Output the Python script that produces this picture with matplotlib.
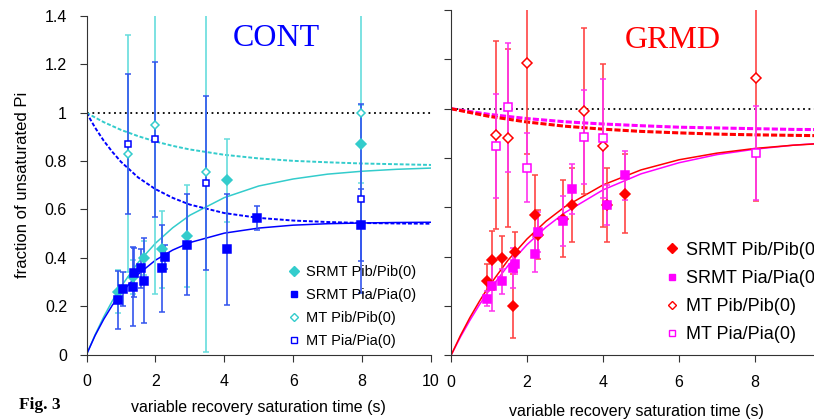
import numpy as np
import matplotlib
matplotlib.use('Agg')
import matplotlib.pyplot as plt

# ---- CONT panel data ----
cont_srmt_pib_x = [0.92, 1.36, 1.67, 2.19, 2.91, 4.08, 7.98]
cont_srmt_pib_y = [0.26, 0.32, 0.40, 0.435, 0.49, 0.72, 0.87]
cont_srmt_pib_e = [0.09, 0.07, 0.07, 0.16, 0.21, 0.17, 0.16]

cont_srmt_pia_x = [0.92, 1.07, 1.34, 1.39, 1.58, 1.68, 2.18, 2.28, 2.92, 4.08, 4.96, 7.98]
cont_srmt_pia_y = [0.226, 0.272, 0.281, 0.339, 0.357, 0.306, 0.357, 0.404, 0.455, 0.435, 0.564, 0.536]
cont_srmt_pia_e = [0.12, 0.07, 0.165, 0.10, 0.08, 0.175, 0.18, 0.05, 0.21, 0.23, 0.05, 0.15]

cont_mt_pib_x = [1.19, 1.99, 3.48, 7.98]
cont_mt_pib_y = [0.83, 0.95, 0.755, 1.0]
cont_mt_pib_e = [0.49, 0.70, 0.745, 0.45]

cont_mt_pia_x = [1.19, 1.98, 3.48, 7.98]
cont_mt_pia_y = [0.87, 0.89, 0.71, 0.645]
cont_mt_pia_e = [0.29, 0.32, 0.36, 0.39]

# fitted curves
fit_t = [0, 0.25, 0.5, 0.75, 1, 1.5, 2, 2.5, 3, 4, 5, 6, 7, 8, 9, 10]
cont_fit_pib = [0, 0.082, 0.156, 0.222, 0.281, 0.381, 0.460, 0.524, 0.576, 0.649, 0.697, 0.726, 0.746, 0.758, 0.766, 0.771]
cont_fit_pia = [0, 0.079, 0.146, 0.204, 0.254, 0.332, 0.390, 0.432, 0.463, 0.502, 0.523, 0.535, 0.541, 0.544, 0.546, 0.547]
cont_mt_fit_pib = [1.0, 0.980, 0.961, 0.945, 0.929, 0.903, 0.881, 0.863, 0.848, 0.826, 0.811, 0.801, 0.795, 0.790, 0.787, 0.784]
cont_mt_fit_pia = [1.0, 0.938, 0.884, 0.838, 0.797, 0.732, 0.684, 0.648, 0.620, 0.585, 0.565, 0.554, 0.548, 0.544, 0.542, 0.541]

# ---- GRMD panel data ----
grmd_srmt_pib_x = [0.94, 1.09, 1.34, 1.62, 1.69, 2.21, 2.28, 2.94, 3.19, 4.11, 4.58]
grmd_srmt_pib_y = [0.30, 0.385, 0.395, 0.20, 0.42, 0.57, 0.49, 0.555, 0.61, 0.61, 0.655]
grmd_srmt_pib_e = [0.07, 0.12, 0.09, 0.13, 0.08, 0.16, 0.10, 0.155, 0.15, 0.15, 0.16]

grmd_srmt_pia_x = [0.94, 1.09, 1.34, 1.62, 1.68, 2.21, 2.28, 2.94, 3.19, 4.11, 4.58]
grmd_srmt_pia_y = [0.23, 0.28, 0.30, 0.355, 0.37, 0.41, 0.50, 0.545, 0.675, 0.61, 0.73]
grmd_srmt_pia_e = [0.03, 0.10, 0.05, 0.08, 0.04, 0.07, 0.08, 0.10, 0.10, 0.08, 0.10]

grmd_mt_pib_x = [1.18, 1.49, 2.01, 3.51, 4.0, 8.02]
grmd_mt_pib_y = [0.893, 0.881, 1.185, 0.99, 0.85, 1.125]
grmd_mt_pib_e = [0.38, 0.36, 0.37, 0.335, 0.33, 0.5]

grmd_mt_pia_x = [1.18, 1.49, 2.0, 3.5, 4.0, 8.02]
grmd_mt_pia_y = [0.85, 1.005, 0.76, 0.885, 0.88, 0.82]
grmd_mt_pia_e = [0.21, 0.26, 0.14, 0.19, 0.24, 0.19]

grmd_fit_pib = [0, 0.081, 0.154, 0.220, 0.281, 0.386, 0.472, 0.544, 0.603, 0.691, 0.752, 0.793, 0.820, 0.839, 0.852, 0.861]
grmd_fit_pia = [0, 0.075, 0.143, 0.206, 0.263, 0.364, 0.449, 0.520, 0.579, 0.671, 0.736, 0.781, 0.814, 0.836, 0.852, 0.863]
mt_t = [0, 1, 2, 3, 4, 5, 6, 7, 8, 9, 10]
grmd_mt_fit_pib = [1.0, 0.969, 0.946, 0.929, 0.917, 0.908, 0.902, 0.897, 0.894, 0.892, 0.890]
grmd_mt_fit_pia = [1.0, 0.977, 0.960, 0.947, 0.938, 0.931, 0.925, 0.922, 0.919, 0.916, 0.915]

plt.rcParams['font.family'] = ['Liberation Sans', 'DejaVu Sans']

fig = plt.figure(figsize=(8.14, 4.19), dpi=100)
ax1 = fig.add_axes([0.1063, 0.1539, 0.4232, 0.8079])
ax2 = fig.add_axes([0.554, 0.1516, 0.446, 0.8246])

def style(ax, xmax, show_ylabels):
    ax.set_xlim(0, xmax)
    ax.set_ylim(0, 1.4)
    ax.set_xticks([0, 2, 4, 6, 8, 10] if xmax >= 10 else [0, 2, 4, 6, 8])
    ax.set_yticks([0, 0.2, 0.4, 0.6, 0.8, 1.0, 1.2, 1.4])
    ax.set_yticklabels(['0', '0.2', '0.4', '0.6', '0.8', '1', '1.2', '1.4'] if show_ylabels else [])
    ax.spines['top'].set_visible(False)
    ax.spines['right'].set_visible(False)
    for s in ['left', 'bottom']:
        ax.spines[s].set_color('#333333')
    ax.tick_params(direction='out', length=5, labelsize=11.5, color='#333333', pad=9)
    ax.axhline(1.0, color='black', ls=(0, (1, 2)), lw=1.3, zorder=1)

def ebar(ax, x, y, e, ecol, mcol, marker, ms, filled):
    ax.errorbar(x, y, yerr=e, fmt='none', ecolor=ecol, elinewidth=1.2, capsize=2, capthick=1.1, zorder=3)
    ax.plot(x, y, ls='none', marker=marker, ms=ms, mec=mcol, mew=1.1,
            mfc=mcol if filled else 'white', zorder=4)

# CONT
cyan, cyan_e = '#33CCCC', '#66DDDD'
blue, blue_e = '#0000FF', '#3355EE'
style(ax1, 10, True)
ax1.plot(fit_t, cont_fit_pib, color=cyan, lw=1.1, zorder=2)
ax1.plot(fit_t, cont_fit_pia, color=blue, lw=1.1, zorder=2)
ax1.plot(fit_t, cont_mt_fit_pib, color=cyan, lw=1.4, ls=(0, (2, 1)), zorder=2)
ax1.plot(fit_t, cont_mt_fit_pia, color=blue, lw=1.4, ls=(0, (2, 1)), zorder=2)
ebar(ax1, cont_mt_pib_x, cont_mt_pib_y, cont_mt_pib_e, cyan_e, cyan, 'D', 4.5, False)
ebar(ax1, cont_srmt_pib_x, cont_srmt_pib_y, cont_srmt_pib_e, cyan_e, cyan, 'D', 5.5, True)
ebar(ax1, cont_mt_pia_x, cont_mt_pia_y, cont_mt_pia_e, blue_e, blue, 's', 5, False)
ebar(ax1, cont_srmt_pia_x, cont_srmt_pia_y, cont_srmt_pia_e, blue_e, blue, 's', 5.5, True)

h = [ax1.plot([], [], ls='none', marker='D', ms=5, mfc=cyan, mec=cyan)[0],
     ax1.plot([], [], ls='none', marker='s', ms=5, mfc=blue, mec=blue)[0],
     ax1.plot([], [], ls='none', marker='D', ms=4.5, mfc='white', mec=cyan)[0],
     ax1.plot([], [], ls='none', marker='s', ms=5, mfc='white', mec=blue)[0]]
ax1.legend(h, ['SRMT Pib/Pib(0)', 'SRMT Pia/Pia(0)', 'MT Pib/Pib(0)', 'MT Pia/Pia(0)'],
           loc='lower left', bbox_to_anchor=(0.585, 0.02), frameon=False,
           handlelength=0.8, handletextpad=0.4, borderpad=0, borderaxespad=0,
           labelspacing=0.62, prop={'family': 'Liberation Sans', 'size': 10.5})
ax1.text(0.55, 0.935, 'CONT', transform=ax1.transAxes, ha='center', va='center',
         color=blue, fontsize=23, family='Liberation Serif')
ax1.set_ylabel('fraction of unsaturated Pi', fontsize=12)
ax1.yaxis.set_label_coords(-0.165, 0.5)
ax1.set_xlabel('variable recovery saturation time (s)', fontsize=11.5)
ax1.xaxis.set_label_coords(0.5, -0.135)

# GRMD
red, red_e = '#FF0000', '#FF4444'
mag, mag_e = '#FF00FF', '#FF33EE'
style(ax2, 9.55, False)
ax2.plot(fit_t, grmd_fit_pia, color=mag, lw=1.1, zorder=2)
ax2.plot(fit_t, grmd_fit_pib, color=red, lw=1.1, zorder=2)
ax2.plot(mt_t, grmd_mt_fit_pia, color=mag, lw=2.2, ls=(0, (2, 0.7)), zorder=2)
ax2.plot(mt_t, grmd_mt_fit_pib, color=red, lw=2.2, ls=(0, (2, 0.7)), zorder=2)
ebar(ax2, grmd_mt_pib_x, grmd_mt_pib_y, grmd_mt_pib_e, red_e, red, 'D', 5, False)
ebar(ax2, grmd_mt_pia_x, grmd_mt_pia_y, grmd_mt_pia_e, mag_e, mag, 's', 6, False)
ebar(ax2, grmd_srmt_pib_x, grmd_srmt_pib_y, grmd_srmt_pib_e, red_e, red, 'D', 5.5, True)
ebar(ax2, grmd_srmt_pia_x, grmd_srmt_pia_y, grmd_srmt_pia_e, mag_e, mag, 's', 6, True)

h2 = [ax2.plot([], [], ls='none', marker='D', ms=5, mfc=red, mec=red)[0],
      ax2.plot([], [], ls='none', marker='s', ms=5, mfc=mag, mec=mag)[0],
      ax2.plot([], [], ls='none', marker='D', ms=4.5, mfc='white', mec=red)[0],
      ax2.plot([], [], ls='none', marker='s', ms=5, mfc='white', mec=mag)[0]]
ax2.legend(h2, ['SRMT Pib/Pib(0)', 'SRMT Pia/Pia(0)', 'MT Pib/Pib(0)', 'MT Pia/Pia(0)'],
           loc='lower left', bbox_to_anchor=(0.588, 0.035), frameon=False,
           handlelength=0.8, handletextpad=0.4, borderpad=0, borderaxespad=0,
           labelspacing=0.62, prop={'family': 'Liberation Sans', 'size': 13})
ax2.text(0.61, 0.912, 'GRMD', transform=ax2.transAxes, ha='center', va='center',
         color=red, fontsize=23, family='Liberation Serif')
ax2.set_xlabel('variable recovery saturation time (s)', fontsize=11.5)
ax2.xaxis.set_label_coords(0.51, -0.14)

fig.text(0.023, 0.033, 'Fig. 3', fontsize=12.5, fontweight='bold', family='Liberation Serif',
         va='center')

fig.savefig('out.png', dpi=100)
